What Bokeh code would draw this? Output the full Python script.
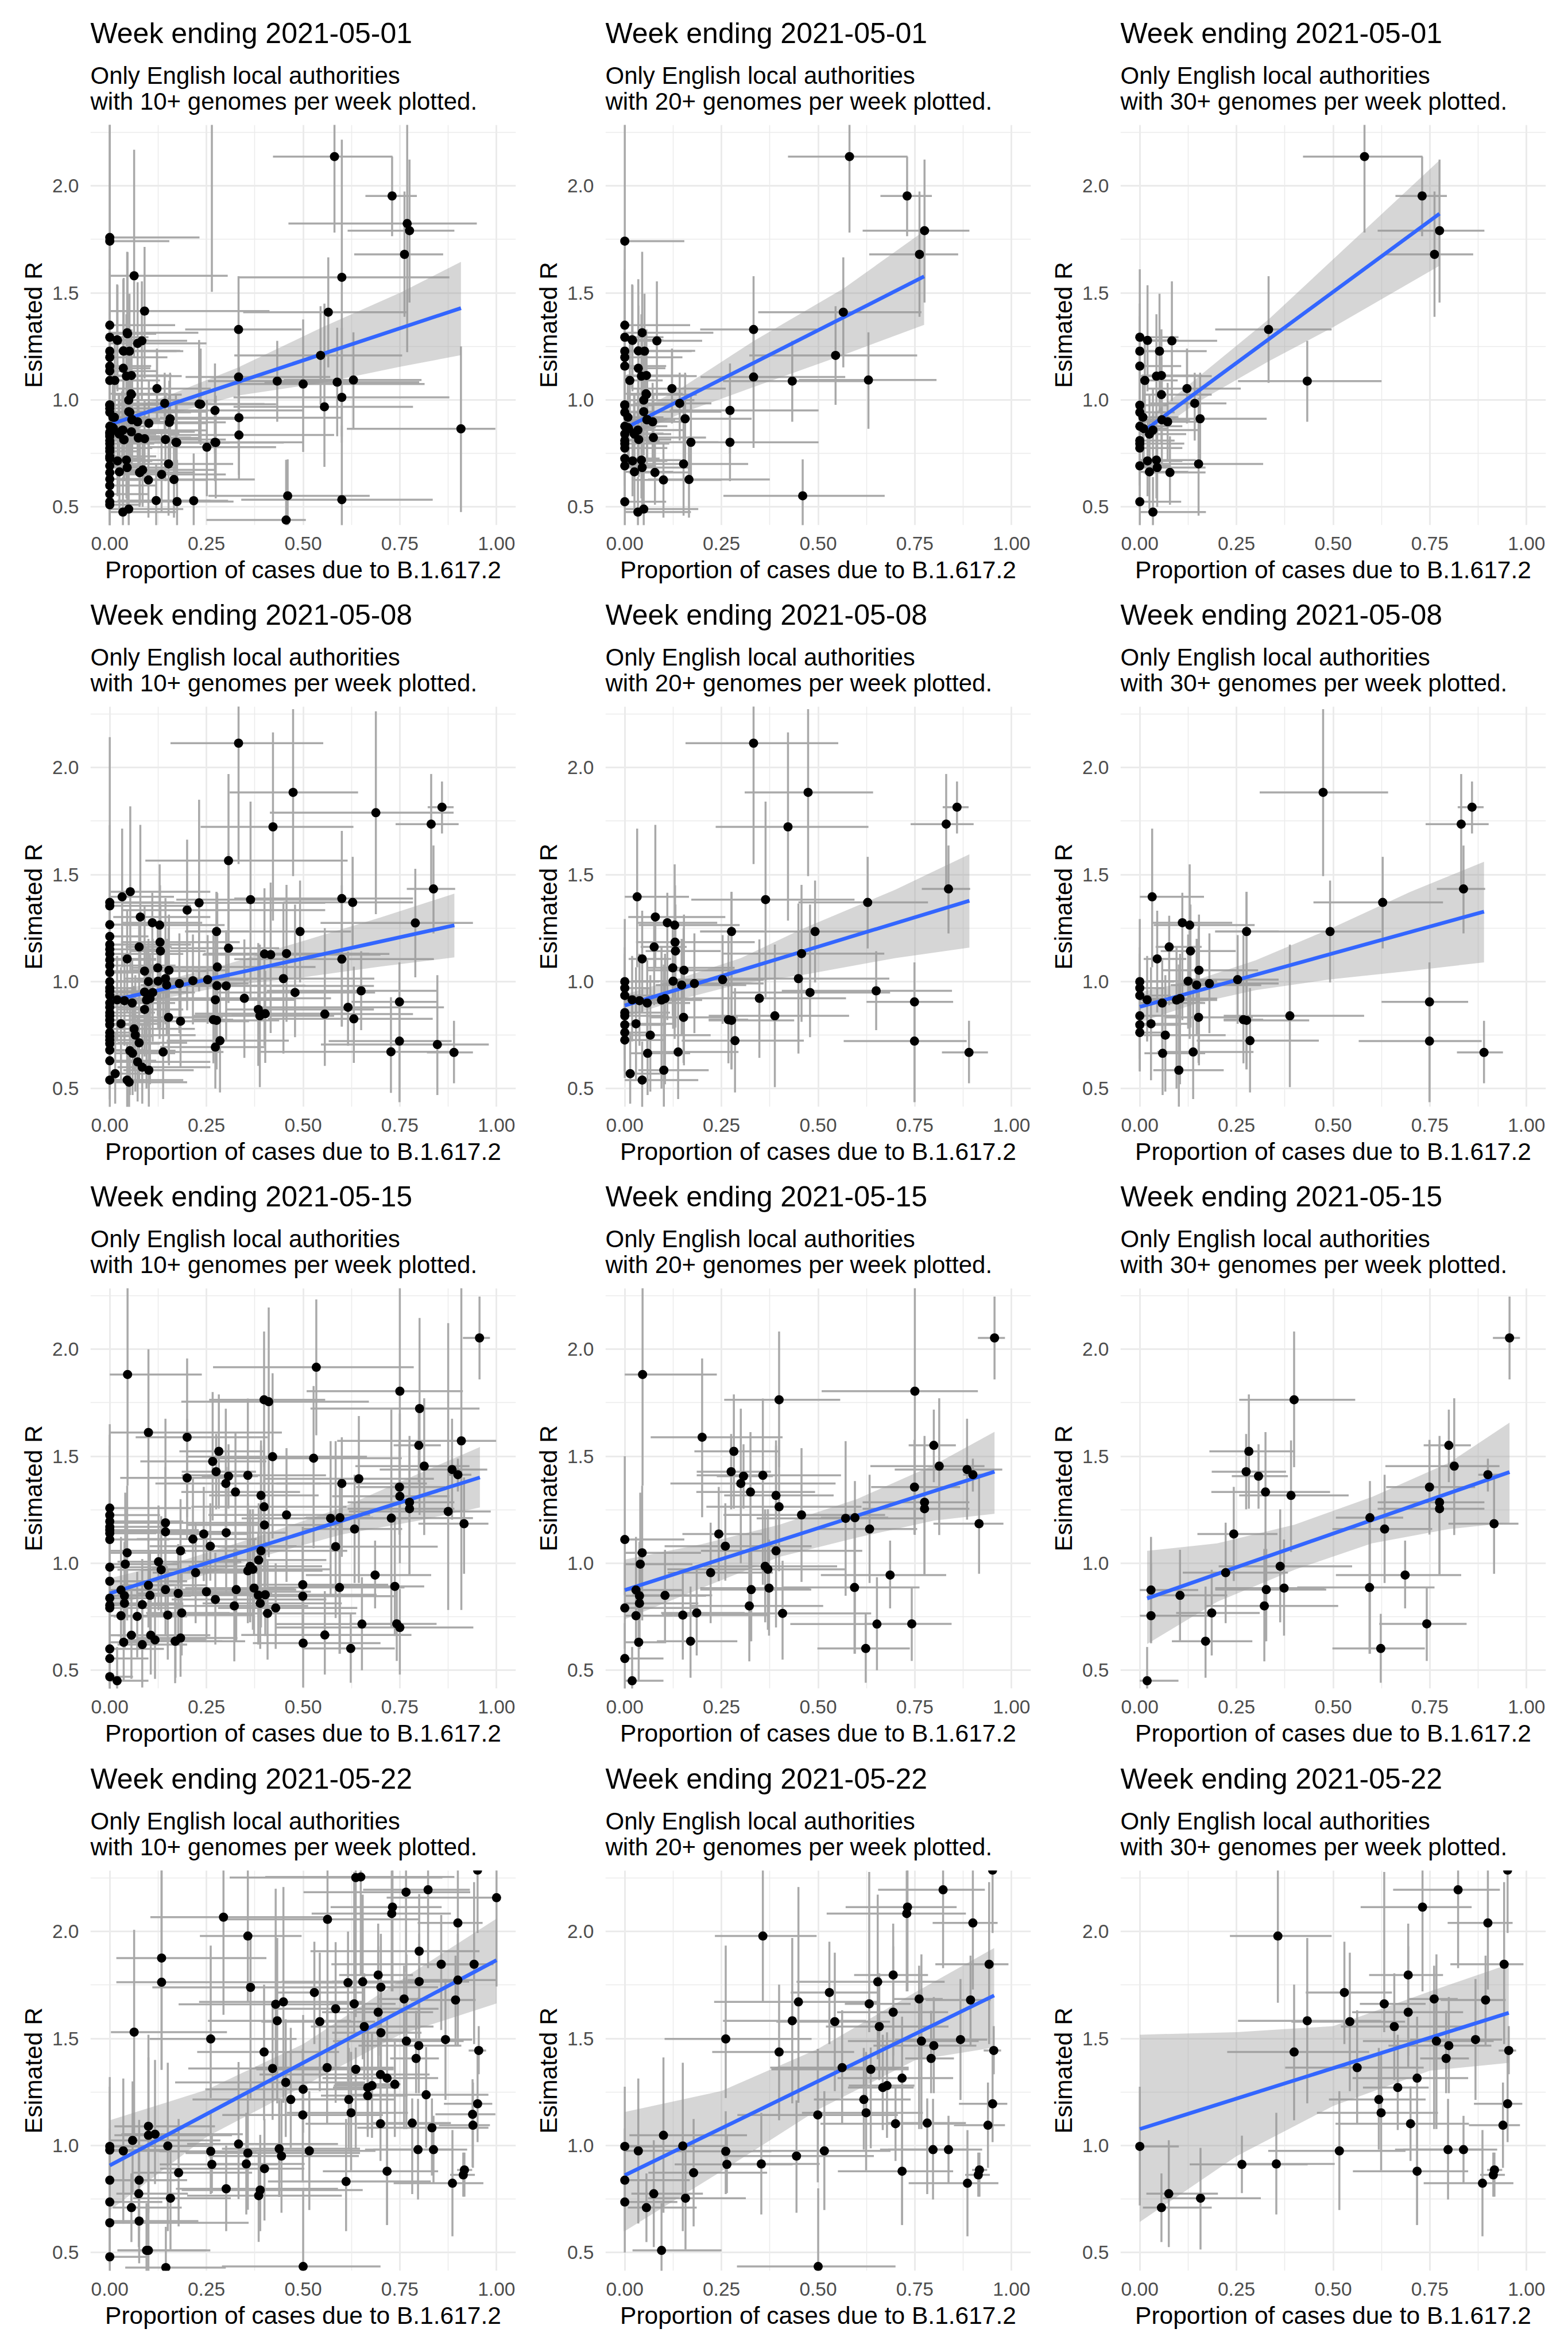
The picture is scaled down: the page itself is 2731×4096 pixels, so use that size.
from bokeh.embed import file_html
from bokeh.resources import INLINE
from bokeh.plotting import figure
from bokeh.layouts import column, row
from bokeh.models import FixedTicker, NumeralTickFormatter, Title, ColumnDataSource

# each row: share, R, share low, share high, R low, R high
W01_T30 = [
(.581,2.137,.422,.731,1.782,2.6),(.730,1.953,.661,.794,1.765,2.137),(.775,1.791,.615,.891,1.455,2.123),
(.762,1.68,.632,.862,1.388,1.974),(.333,1.329,.195,.496,1.08,1.578),(.433,1.088,.254,.625,.898,1.276),
(0,1.293,0,.10,1.01,1.61),(.02,1.278,0,.10,1.04,1.536),(.083,1.276,.0,.2,.995,1.554),(.051,1.228,0,.173,.94,1.496),
(0,1.228,0,.054,.97,1.45),(0,1.158,0,.107,.88,1.39),(.043,1.111,.0,.186,.86,1.40),(.056,1.114,.005,.16,.87,1.33),
(.013,1.091,0,.098,.85,1.29),(.122,1.053,.019,.261,.89,1.24),(.056,1.025,.01,.186,.80,1.20),(.142,.984,.027,.224,.81,1.127),
(0,.975,0,.072,.76,1.17),(0,.942,0,.09,.75,1.12),(.008,.919,0,.10,.72,1.10),(.156,.912,.063,.328,.70,1.127),
(.057,.907,.0,.13,.70,1.09),(.072,.898,.01,.16,.72,1.08),(0,.877,0,.11,.70,1.04),(.01,.866,0,.07,.68,1.03),
(.034,.859,.0,.155,.66,1.05),(.025,.84,0,.12,.65,1.02),(0,.81,0,.09,.60,.99),(0,.796,0,.115,.62,.97),(0,.775,0,.11,.60,.95),
(0,.692,0,.08,.50,.87),(.02,.715,0,.11,.55,.91),(.043,.719,.0,.145,.54,.88),(.025,.664,0,.125,.49,.83),(.045,.684,.0,.17,.50,.86),
(.078,.661,.01,.17,.51,.83),(.152,.701,.02,.319,.459,1.01),(0,.524,0,.107,.36,.70),(.034,.476,0,.171,.33,.64),
]
W01_T20 = [
(0,1.742,0,.154,1.33,2.6),(.045,1.314,0,.229,1.03,1.692),(.019,1.281,0,.09,1.05,1.54),(0,1.349,0,.169,1.02,1.70),
(.035,1.229,0,.182,.98,1.564),(0,1.199,0,.149,.95,1.60),(.035,1.148,0,.105,.95,1.44),(.055,1.029,.0,.15,.83,1.28),
(.049,.999,.005,.18,.80,1.22),(0,.977,0,.12,.78,1.19),(.049,.945,0,.25,.74,1.17),(.058,.908,.01,.13,.72,1.09),
(.008,.871,0,.08,.69,1.06),(.024,.843,0,.10,.66,1.03),(0,.841,0,.07,.67,1.01),(.036,.815,0,.12,.64,.99),(.074,.824,.02,.21,.65,1.02),
(0,.726,0,.09,.55,.90),(.272,.951,.116,.501,.75,1.17),(.333,1.107,.196,.57,.776,1.32),(.63,1.093,.45,.806,.865,1.316),
(.545,1.208,.322,.756,.977,1.438),(.565,1.41,.345,.767,1.152,1.666),(.272,.802,.116,.501,.62,1.0),(.171,.802,.06,.242,.63,1.02),
(.166,.628,.06,.375,.45,.83),(.1,.626,.02,.25,.45,.80),(.46,.552,.255,.672,.40,.722),(.049,.49,0,.19,.33,.67),
]
W01_T10 = [
(.264,2.5,.12,.42,1.505,3.0),(.769,1.824,.462,.949,1.223,2.6),(0,1.759,0,.232,1.35,2.6),(.063,1.58,.0,.305,1.20,2.169),
(.6,1.573,.332,.878,.828,2.216),(.09,1.415,.0,.413,1.10,1.715),(.046,1.309,.0,.12,1.02,1.69),(.072,1.264,.0,.25,.98,1.55),
(.036,1.228,0,.19,.97,1.57),(0,1.135,0,.12,.88,1.40),(0,1.091,0,.13,.85,1.33),(.5,1.074,.32,.814,.757,1.376),(.588,1.083,.40,.80,.83,1.337),
(.6,1.012,.32,.878,.80,1.337),(.555,.968,.32,.784,.687,1.45),(.231,.981,.10,.40,.80,1.28),(.235,.98,.08,.43,.79,1.24),
(.052,.942,.0,.21,.72,1.16),(0,.96,0,.13,.77,1.17),(.012,.919,0,.10,.72,1.10),(.334,.917,.13,.60,.65,1.15),(.154,.895,.04,.30,.72,1.09),
(.101,.891,.02,.25,.70,1.09),(.032,.858,0,.25,.66,1.04),(.023,.845,0,.18,.67,1.02),(.056,.851,0,.22,.66,1.05),(.334,.836,.15,.58,.63,1.05),
(.074,.822,.01,.23,.64,1.02),(.09,.819,.02,.22,.63,1.0),(.037,.814,0,.16,.62,1.01),(.144,.815,.05,.30,.62,1.02),(.274,.801,.10,.45,.54,1.02),
(.173,.801,.04,.31,.60,.98),(.251,.779,.10,.43,.55,1.0),(0,.85,0,.10,.68,1.03),(0,.83,0,.13,.65,1.01),(0,.76,0,.08,.58,.93),(0,.736,0,.12,.56,.91),
(.077,.661,.01,.22,.50,.85),(.085,.673,.02,.27,.50,.86),(.134,.652,.02,.30,.48,.84),(0,.66,0,.10,.48,.85),(0,.63,0,.09,.47,.80),(0,.60,0,.12,.43,.78),
(0,.56,0,.10,.40,.74),(0,.51,0,.08,.36,.69),(.217,.529,.09,.306,.38,.75),(.6,.534,.34,.835,.39,.88),(.456,.439,.25,.507,.30,.72),
(.908,.865,.613,.997,.476,1.25),(.174,.525,.05,.32,.38,.72),(.12,.53,.02,.26,.37,.70),
]

W08_T30 = [
(.474,1.884,.31,.642,1.493,2.273),(.859,1.815,.822,.889,1.692,1.935),(.831,1.736,.739,.902,1.445,1.97),(.837,1.433,.768,.893,1.225,1.636),
(.628,1.37,.449,.784,1.155,1.583),(.492,1.234,.195,.624,.996,1.472),(.276,1.234,.195,.359,.59,1.419),(.032,1.396,0,.166,1.067,1.715),
(.11,1.275,.032,.239,.82,1.415),(.129,1.264,.036,.297,.732,1.548),(.076,1.162,.041,.16,.89,1.308),(.131,1.143,.054,.248,.785,1.36),
(.045,1.106,.01,.12,.856,1.331),(.153,1.053,.058,.306,.609,1.313),(0,1.0,0,.089,.583,1.292),(.125,1.002,.02,.2,.78,1.22),
(.147,.984,.08,.314,.75,1.20),(.18,.991,.098,.359,.759,1.225),(.253,1.009,.116,.359,.803,1.217),(0,.97,0,.063,.72,1.16),(0,.935,0,.08,.70,1.13),
(.019,.915,0,.102,.72,1.12),(.058,.9,.0,.169,.69,1.10),(.095,.914,.02,.2,.50,1.16),(.104,.921,.02,.2,.52,1.13),(.152,.833,.063,.292,.62,1.25),
(0,.84,0,.102,.68,1.03),(.268,.822,.217,.319,.618,1.217),(.276,.819,.217,.438,.59,1.419),(.388,.84,.217,.58,.507,1.173),(0,.798,0,.107,.64,.97),
(.029,.803,0,.133,.539,1.067),(0,.762,0,.067,.58,1.0),(.066,.75,.01,.222,.486,1.03),(.285,.724,.147,.463,.482,.97),(.749,.905,.625,.849,.437,1.09),
(.749,.722,.566,.884,.437,.905),(.89,.669,.82,.939,.525,.817),(.059,.665,.012,.169,.47,.88),(.138,.671,.045,.294,.451,1.0),(.101,.586,.035,.217,.415,1.08),
]
W08_T20 = [
(.333,2.114,.157,.552,1.549,2.6),(.422,1.723,.235,.63,1.285,2.164),(.364,1.383,.172,.594,.927,1.841),(.079,1.302,.009,.26,1.06,1.732),
(.13,1.184,.029,.336,.90,1.45),(.124,1.064,.056,.284,.84,1.28),(.449,1.014,.27,.684,.664,1.365),(.457,1.131,.254,.671,.812,1.452),
(.65,.957,.406,.846,.773,1.142),(.479,.949,.273,.686,.74,1.36),(.348,.922,.175,.572,.644,1.197),(.038,.911,0,.11,.70,1.13),
(0,.855,0,.117,.66,1.05),(0,.727,0,.105,.55,.92),(.014,.57,0,.10,.43,.76),(.045,.54,0,.19,.40,.72),
]
W08_T10 = [
(.688,1.789,.414,.889,1.315,2.263),(.307,1.565,.092,.615,1.02,1.97),(.053,1.42,.0,.26,1.05,1.819),(0,1.37,0,.167,1.05,2.142),(0,1.354,0,.21,1.08,1.73),
(.231,1.368,.03,.557,.954,1.85),(.6,1.388,.322,.784,.79,1.704),(.2,1.334,.03,.557,.866,1.663),(0,1.266,0,.13,1.0,1.60),(0,1.211,0,.10,.97,1.50),
(0,1.173,0,.21,.93,1.44),(0,1.151,0,.14,.92,1.40),(0,1.129,0,.19,.91,1.38),(0,1.102,0,.12,.88,1.34),(0,1.075,0,.17,.85,1.31),(0,1.042,0,.11,.83,1.27),
(.307,1.156,.157,.438,.90,1.60),(.4,1.129,.243,.723,.70,1.436),(.416,1.126,.24,.70,.76,1.463),(.6,1.105,.322,.838,.79,1.45),(.79,1.274,.545,.939,1.02,1.527),
(.09,1.049,.01,.25,.78,1.35),(.1,1.0,.02,.22,.79,1.20),(.144,1.014,.04,.30,.80,1.39),(.215,1.004,.07,.27,.80,1.22),(.278,1.068,.15,.532,.83,1.414),
(.277,.981,.10,.506,.72,1.28),(.301,.98,.13,.683,.72,1.24),(.273,.915,.12,.48,.70,1.22),(.616,.88,.373,.864,.70,1.14),(.631,.826,.409,.835,.62,1.07),
(.556,.848,.315,.784,.606,1.25),(.384,.87,.30,.683,.606,1.18),(.402,.85,.22,.62,.62,1.05),(.727,.672,.387,.889,.48,.927),(.847,.706,.546,.98,.47,1.03),
(.09,.951,.01,.20,.73,1.16),(.111,.949,.03,.22,.72,1.20),(.183,.815,.06,.36,.60,1.02),(.273,.694,.13,.40,.50,.94),(.063,.779,.0,.22,.58,.98),
(.076,.714,.02,.20,.53,.92),(.052,.677,.01,.17,.47,.88),(.072,.625,.01,.26,.44,.84),(.084,.6,.02,.26,.43,.80),(.09,.87,.02,.19,.65,1.08),
(0,.955,0,.09,.74,1.15),(0,.9,0,.14,.70,1.10),(0,.88,0,.105,.68,1.07),(0,.82,0,.135,.63,1.01),(0,.745,0,.11,.55,.94),(0,.71,0,.13,.53,.90),(0,.68,0,.09,.50,.87),(0,.63,0,.12,.45,.82),
(0,.54,0,.09,.38,.72),(.05,.53,.0,.20,.39,.70),
]

W15_T30 = [
(.956,2.053,.913,.983,1.859,2.246),(.399,1.764,.257,.557,1.449,2.083),(.282,1.523,.18,.401,1.255,1.789),(.275,1.428,.186,.378,1.252,1.604),
(.307,1.407,.238,.383,1.255,1.556),(.325,1.333,.185,.492,.636,1.613),(.391,1.317,.257,.54,1.053,1.574),(.243,1.137,.149,.356,.917,1.357),
(.222,.956,.111,.383,.72,1.19),(.363,.986,.204,.549,.724,1.252),(.373,.884,.195,.478,.662,1.111),(.327,.877,.195,.482,.636,1.067),
(.322,.801,.169,.513,.542,1.067),(.186,.768,.094,.31,.569,.97),(.17,.636,.083,.291,.465,.891),(.104,.85,.019,.226,.636,1.063),
(.029,.875,0,.151,.627,1.123),(.029,.755,0,.18,.627,1.0),(.019,.451,0,.1,.36,.609),(.595,1.213,.507,.681,.577,1.384),(.633,1.16,.498,.756,.908,1.414),
(.594,.887,.407,.762,.577,1.216),(.686,.945,.507,.831,.789,1.106),(.742,.717,.619,.845,.544,.891),(.623,.602,.498,.737,.442,.764),(.749,1.356,.637,.867,1.134,1.577),
(.775,1.285,.615,.891,.944,1.595),(.775,1.255,.615,.891,.944,1.55),(.799,1.551,.734,.856,1.379,1.718),(.813,1.454,.635,.93,1.132,1.771),(.9,1.414,.875,.935,1.335,1.489),
(.916,1.185,.798,.979,.951,1.401),
]
W15_T20 = [
(.046,1.882,0,.238,1.363,2.6),(.2,1.589,.067,.408,1.215,1.957),(.357,1.411,.186,.559,.90,1.77),(.3,1.373,.118,.545,1.0,1.722),(.399,1.264,.211,.612,.963,1.576),
(.457,1.226,.255,.673,.913,1.538),(.571,1.21,.341,.774,.848,1.571),(.885,1.438,.698,.976,1.204,1.675),(.75,1.804,.509,.913,1.133,2.6),(0,1.111,0,.154,.85,1.5),
(.045,1.049,0,.197,.733,1.363),(.04,.996,0,.175,.75,1.33),(.038,.848,0,.21,.60,1.10),(.038,.813,0,.19,.60,1.07),(0,.791,0,.19,.60,1.0),(.15,.758,.096,.372,.55,.97),
(.036,.631,0,.107,.45,.82),(.26,1.08,.103,.483,.919,1.28),(.37,.972,.11,.572,.689,1.253),(.391,1.058,.197,.614,.70,1.55),(.408,.766,.096,.637,.55,1.012),
(.652,.716,.428,.742,.50,.935),(0,.555,0,.10,.40,.72),
]
W15_T10 = [
(.534,1.916,.267,.786,1.598,2.233),(.411,1.755,.185,.67,1.028,2.195),(.801,1.723,.519,.956,1.226,2.146),(.909,1.572,.588,.999,.782,2.288),(.1,1.611,0,.445,1.1,2.0),
(.421,1.498,.2,.665,1.116,1.888),(.527,1.491,.258,.755,1.07,1.828),(.266,1.476,.079,.405,1.2,1.80),(.2,1.399,.027,.30,1.116,1.675),(.644,1.395,.402,.838,.908,1.688),
(.6,1.373,.431,.82,1.03,1.589),(.75,1.313,.575,.878,1.0,1.70),(.875,1.242,.618,.985,.782,2.122),(.728,1.211,.503,.939,.70,1.718),(.584,1.078,.279,.848,.744,1.571),
(.144,1.189,0,.387,.90,1.675),(.144,1.147,0,.31,.85,1.45),(0,1.258,0,.21,1.0,1.65),(0,1.225,0,.13,.98,1.60),(0,1.196,0,.19,.95,1.55),(0,1.17,0,.15,.93,1.48),
(0,1.155,0,.23,.91,1.45),(0,1.14,0,.12,.89,1.42),(.301,1.143,.10,.46,.85,1.45),(.215,1.113,.07,.38,.85,1.40),(.183,1.058,.0,.23,.80,1.30),(.126,1.007,.02,.34,.78,1.27),
(.133,.97,.02,.30,.75,1.22),(0,.982,0,.15,.72,1.27),(0,.916,0,.20,.70,1.13),(.1,.897,.03,.25,.70,1.12),(.144,.877,.05,.42,.66,1.10),(.177,.859,.07,.42,.65,1.09),
(.25,.867,.14,.52,.65,1.15),(.273,.831,.16,.56,.62,1.05),(.084,.807,.02,.19,.60,1.02),(0,.837,0,.12,.65,1.05),(0,.804,0,.15,.62,1.0),(.071,.752,.01,.20,.56,.96),
(.384,.851,.22,.60,.62,1.14),(.402,.853,.25,.69,.66,1.10),(.389,.813,.24,.60,.60,1.04),(.429,.791,.28,.64,.60,1.0),(.499,.9,.36,.72,.66,1.17),(.499,.846,.36,.74,.60,1.10),
(.737,.892,.50,.813,.66,1.22),(.75,.7,.43,.94,.48,.88),(.556,.665,.34,.78,.48,.87),(.5,.627,.37,.70,.42,.83),(.056,.664,.0,.19,.46,.87),(.106,.664,.02,.26,.48,.86),
(.117,.642,.03,.25,.46,.86),(.084,.62,.02,.20,.42,.81),(.169,.636,.05,.35,.44,.84),(.183,.651,.07,.33,.47,.86),(.4,1.179,.20,.60,.86,1.50),(.385,1.015,.25,.56,.78,1.28),
(.357,.965,.20,.55,.72,1.28),(0,.6,0,.14,.43,.78),(0,.47,0,.06,.36,.62),
]

W22_T30 = [
(0,.996,0,.101,.72,1.275),(.056,.71,.008,.186,.549,.87),(.075,.775,.017,.202,.526,1.025),(.157,.754,.06,.313,.514,.989),(.264,.912,.129,.434,.778,1.046),
(.353,.914,.255,.504,.678,1.153),(.516,.975,.332,.687,.699,1.254),(.357,1.979,.233,.496,1.667,2.6),(.433,1.583,.254,.624,1.197,1.97),(.399,1.437,.226,.593,1.118,1.752),
(.529,1.715,.429,.652,1.474,1.952),(.543,1.579,.392,.686,1.254,1.901),(.562,1.364,.376,.734,1.104,1.632),(.632,1.662,.569,.739,1.53,2.278),(.658,1.556,.52,.837,1.306,1.805),
(.694,1.623,.549,.836,1.368,2.037),(.694,1.797,.593,.784,1.42,1.931),(.731,2.114,.571,.858,1.72,2.6),(.823,2.195,.655,.931,1.829,2.6),(.9,2.04,.796,.964,1.729,2.6),
(.942,1.847,.803,.992,1.474,2.231),(.951,2.287,.942,.96,1.993,2.6),(.761,1.685,.694,.822,1.077,1.84),(.894,1.68,.778,.946,1.465,1.887),(.767,1.488,.577,.915,1.077,1.893),
(.799,1.467,.643,.909,1.245,1.694),(.868,1.495,.699,.937,1.213,1.778),(.792,1.407,.725,.851,1.245,1.63),(.954,1.444,.928,.973,1.333,1.558),(.717,1.315,.55,.849,.629,1.602),
(.667,1.271,.577,.747,1.072,1.518),(.618,1.215,.489,.739,.981,1.456),(.624,1.153,.458,.771,.884,1.438),(.7,1.102,.506,.851,.928,1.276),(.951,1.195,.864,.989,1.016,1.447),
(.939,1.095,.851,.983,.896,1.294),(.797,.981,.681,.889,.748,1.218),(.837,.981,.66,.924,.822,1.139),(.717,.88,.551,.849,.629,1.104),(.886,.824,.734,.966,.576,1.072),
(.917,.886,.898,.937,.761,.967),(.914,.863,.88,.944,.761,.967),
]
W22_T20 = [
(.261,1.498,.103,.483,1.222,1.934),(.449,1.671,.231,.659,1.2,2.208),(.654,1.765,.444,.827,1.403,2.172),(.729,2.084,.522,.882,1.72,2.285),(.636,1.356,.379,.734,.987,1.458),
(.678,1.28,.579,.749,1.036,1.529),(.782,1.105,.68,.882,.773,1.22),(.499,1.143,.291,.706,.828,1.452),(.444,.951,.255,.644,.686,1.211),(.261,.973,.128,.379,.773,1.16),
(.178,.873,.061,.368,.622,1.124),(.15,.998,.0,.262,.60,1.387),(.1,1.048,.012,.316,.686,1.412),(.035,.975,0,.16,.636,1.313),(0,.838,0,.168,.60,1.08),(0,.736,0,.136,.50,1.0),
(.5,.435,.29,.70,.30,.80),(.095,.51,.02,.25,.38,.73),
]
W22_T10 = [
(.294,2.067,.105,.553,1.611,2.6),(.563,2.057,.301,.799,1.463,2.6),(.636,2.252,.31,.86,1.60,2.6),(.649,2.255,.402,.891,1.80,2.6),(.766,2.184,.501,.932,1.81,2.6),
(1.0,2.158,.716,1.0,1.743,2.6),(.8,1.908,.519,.956,1.496,2.175),(.857,1.847,.573,.955,1.54,2.077),(.134,1.876,.017,.405,1.354,2.285),(.134,1.763,.017,.445,1.354,2.40),
(.364,1.739,.11,.589,1.22,1.989),(.063,1.53,.003,.303,1.01,2.008),(.429,1.66,.178,.589,1.33,2.2),(.584,1.639,.42,.85,1.2,1.95),(.616,1.761,.45,.81,1.3,2.0),
(.701,1.74,.553,.849,1.33,1.989),(.701,1.527,.575,.806,1.33,1.77),(.8,1.766,.575,.929,1.55,1.989),(.9,1.773,.77,1.0,1.47,1.989),(.421,1.36,.203,.604,1.12,1.66),
(.7,1.332,.387,.827,1.12,1.62),(.455,1.295,.169,.66,1.04,1.59),(.737,1.286,.582,.752,1.04,1.5),(.5,1.263,.247,.66,1.06,1.61),(.818,1.237,.625,.979,.99,1.46),
(.468,1.215,.214,.66,.99,1.55),(.667,1.233,.546,.77,1.04,1.55),(.833,1.083,.64,.979,.86,1.22),(.938,1.146,.842,.997,.9,1.31),(.1,1.09,.012,.272,.78,1.518),
(.117,1.053,.03,.344,.82,1.4),(.059,1.024,.0,.286,.78,1.3),(0,.979,0,.16,.7,1.32),(.333,1.007,.2,.59,.75,1.39),(.357,.965,.196,.647,.7,1.24),(.438,.985,.29,.647,.76,1.22),
(.4,.892,.13,.503,.65,1.124),(.076,.838,.0,.2,.6,1.12),(.076,.647,.0,.229,.45,.97),(0,.639,0,.359,.45,.95),(.301,.798,.171,.59,.6,1.0),(.389,.792,.186,.654,.6,1.05),
(.385,.766,.2,.6,.55,.97),(.611,.832,.409,.83,.6,1.124),(0,.48,0,.1,.33,.7),(.145,.43,.04,.3,.3,.62),(.1,.51,.02,.26,.38,.72),
]

# fitted line end points per threshold column, and the grey band read at several shares
LINE_X_01 = [[0,.908],[.013,.774],[.019,.775]]
LINE_Y_01 = [[.885,1.429],[.879,1.577],[.866,1.87]]
LINE_X_08 = [[0,.891],[0,.891],[0,.89]]
LINE_Y_08 = [[.91,1.263],[.888,1.378],[.882,1.327]]
LINE_X_15 = [[0,.957],[0,.956],[.019,.956]]
LINE_Y_15 = [[.859,1.401],[.875,1.428],[.836,1.426]]
LINE_X_22 = [[0,1],[0,.955],[0,.954]]
LINE_Y_22 = [[.907,1.866],[.861,1.701],[1.077,1.62]]

FIT_X_01 = [[0,.15,.33,.55,.75,.908],[.013,.15,.333,.565,.774],[.019,.15,.333,.5,.775]]
FIT_HI_01 = [[.93,1.02,1.15,1.34,1.50,1.645],[.925,1.06,1.275,1.52,1.789],[.91,1.105,1.376,1.657,2.12]]
FIT_LO_01 = [[.84,.93,1.02,1.08,1.155,1.209],[.83,.94,1.06,1.21,1.351],[.82,.99,1.18,1.34,1.627]]
FIT_X_08 = [[0,.15,.3,.5,.7,.891],[0,.15,.3,.457,.7,.891],[0,.15,.3,.49,.7,.89]]
FIT_HI_08 = [[.95,1.01,1.08,1.19,1.30,1.411],[.94,1.02,1.11,1.245,1.43,1.595],[.95,1.01,1.10,1.245,1.42,1.56]]
FIT_LO_08 = [[.87,.925,.98,1.02,1.07,1.113],[.835,.92,.99,1.03,1.11,1.159],[.81,.90,.96,1.01,1.05,1.09]]
FIT_X_15 = [[0,.2,.4,.6,.8,.957],[0,.2,.4,.6,.8,.956],[.019,.2,.4,.6,.8,.956]]
FIT_HI_15 = [[.93,1.02,1.135,1.26,1.42,1.543],[1.017,1.09,1.18,1.30,1.46,1.614],[1.058,1.093,1.18,1.31,1.47,1.657]]
FIT_LO_15 = [[.79,.92,1.035,1.135,1.20,1.261],[.738,.885,1.03,1.12,1.20,1.231],[.623,.82,.97,1.093,1.16,1.19]]
FIT_X_22 = [[0,.25,.5,.75,1],[0,.25,.5,.75,.955],[0,.25,.5,.75,.954]]
FIT_HI_22 = [[1.118,1.26,1.474,1.77,2.06],[1.157,1.255,1.452,1.715,1.923],[1.518,1.53,1.558,1.72,1.847]]
FIT_LO_22 = [[.697,1.04,1.277,1.518,1.664],[.6,.88,1.168,1.398,1.458],[.643,.95,1.185,1.35,1.386]]

WEEKS = ["2021-05-01", "2021-05-08", "2021-05-15", "2021-05-22"]
THRESHOLDS = [10, 20, 30]
X_TICKS = [0, .25, .5, .75, 1]
X_MINOR = [.125, .375, .625, .875]
Y_TICKS = [.5, 1, 1.5, 2]
Y_MINOR = [.75, 1.25, 1.75, 2.25]

TIERS = [(W01_T30, W01_T20, W01_T10), (W08_T30, W08_T20, W08_T10), (W15_T30, W15_T20, W15_T10), (W22_T30, W22_T20, W22_T10)]
LINES = [(LINE_X_01, LINE_Y_01), (LINE_X_08, LINE_Y_08), (LINE_X_15, LINE_Y_15), (LINE_X_22, LINE_Y_22)]
BANDS = [(FIT_X_01, FIT_LO_01, FIT_HI_01), (FIT_X_08, FIT_LO_08, FIT_HI_08),
         (FIT_X_15, FIT_LO_15, FIT_HI_15), (FIT_X_22, FIT_LO_22, FIT_HI_22)]

FONT = "Liberation Sans"
FRAME_W, FRAME_H = 741, 697
COL_WIDTH = [904, 897, 920]
COL_LEFT = [157, 150, 150]
ROW_TOP = [217, 205, 205, 206]
BOTTOM = 111


def panel(r, c):
    t30, t20, t10 = TIERS[r]
    rows = list(t30)
    if c <= 1:
        rows += t20
    if c == 0:
        rows += t10
    x, y, xl, xh, yl, yh = map(list, zip(*rows))
    src = ColumnDataSource(dict(x=x, y=y, xl=xl, xh=xh, yl=yl, yh=yh))
    p = figure(width=COL_WIDTH[c], height=ROW_TOP[r] + FRAME_H + BOTTOM, output_backend="svg", toolbar_location=None,
               x_range=(-.05, 1.05), y_range=(.415, 2.285),
               min_border_left=COL_LEFT[c], min_border_right=COL_WIDTH[c] - COL_LEFT[c] - FRAME_W,
               min_border_top=ROW_TOP[r], min_border_bottom=BOTTOM,
               x_axis_label="Proportion of cases due to B.1.617.2", y_axis_label="Esimated R")
    p.outline_line_color = None
    for ax, ticks, minor, fmt in ((p.xaxis, X_TICKS, X_MINOR, "0.00"), (p.yaxis, Y_TICKS, Y_MINOR, "0.0")):
        ax.ticker = FixedTicker(ticks=ticks, minor_ticks=minor)
        ax.formatter = NumeralTickFormatter(format=fmt)
        ax.axis_line_color = None
        ax.major_tick_line_color = None
        ax.minor_tick_line_color = None
        ax.major_label_text_font = FONT
        ax.major_label_text_font_size = "33.5px"
        ax.major_label_text_color = "#4D4D4D"
        ax.axis_label_text_font = FONT
        ax.axis_label_text_font_size = "42.5px"
        ax.axis_label_text_font_style = "normal"
        ax.axis_label_text_color = "#000000"
    p.xaxis.major_label_standoff = 14
    p.xaxis.axis_label_standoff = 8
    p.yaxis.major_label_standoff = 14
    p.yaxis.axis_label_standoff = 6
    for g in (p.xgrid, p.ygrid):
        g.grid_line_color = "#EBEBEB"
        g.grid_line_width = 3
        g.minor_grid_line_color = "#EBEBEB"
        g.minor_grid_line_width = 1.5

    p.segment("x", "yl", "x", "yh", source=src, line_color="#A9A9A9", line_width=3.5)
    p.segment("xl", "y", "xh", "y", source=src, line_color="#A9A9A9", line_width=3.5)
    bx, blo, bhi = BANDS[r]
    p.varea(bx[c], blo[c], bhi[c], fill_color="#999999", fill_alpha=.4)
    lx, ly = LINES[r]
    p.line(lx[c], ly[c], line_color="#3366FF", line_width=6.5)
    p.scatter("x", "y", source=src, size=16, fill_color="#000000", line_color=None)

    subtitle = f"Only English local authorities\nwith {THRESHOLDS[c]}+ genomes per week plotted."
    p.add_layout(Title(text=subtitle, text_font=FONT, text_font_size="42px", text_font_style="normal",
                       text_color="#000000", text_line_height=.96, standoff=35, align="left"), "above")
    p.add_layout(Title(text=f"Week ending {WEEKS[r]}", text_font=FONT, text_font_size="50px", text_font_style="normal",
                       text_color="#000000", standoff=5, align="left"), "above")
    return p


layout = column(*[row(*[panel(r, c) for c in range(3)], spacing=0) for r in range(4)], spacing=0)
open("out.html", "w").write(file_html(layout, INLINE))
